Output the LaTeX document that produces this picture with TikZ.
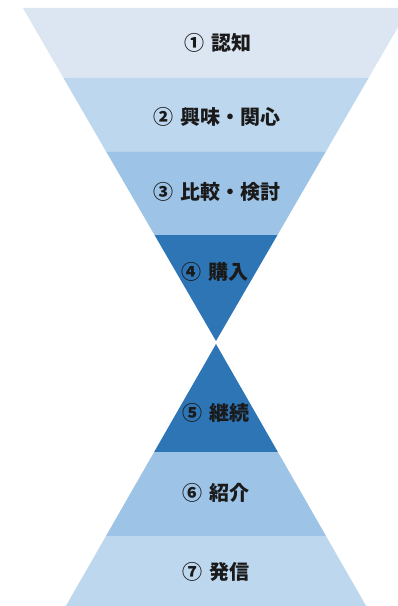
\documentclass[tikz,border=0pt]{standalone}
\usepackage{fontspec}
\newfontfamily\jpfont{Noto Sans CJK JP}
\usepackage{tikz}
\usetikzlibrary{positioning}
\definecolor{bandA}{HTML}{DCE6F2}
\definecolor{bandB}{HTML}{BDD7EE}
\definecolor{bandC}{HTML}{9DC3E6}
\definecolor{bandD}{HTML}{2E75B6}
\definecolor{labtext}{HTML}{1A1A1A}

\begin{document}
\begin{tikzpicture}[x=0.75pt, y=-0.75pt,
		label/.style={text=labtext, inner sep=0pt,
			font=\jpfont\bfseries\fontsize{15}{18}\selectfont}]
		\useasboundingbox (0,0) rectangle (398,606);
		\clip (0,0) rectangle (398,606);
		%% Upper funnel
		\foreach \ya/\yb/\col in {8/78/bandA, 78/152/bandB, 152/235/bandC, 235/341/bandD} {
			\pgfmathsetmacro\wa{0.58*(341-\ya)}
			\pgfmathsetmacro\wb{0.58*(341-\yb)}
			\fill [\col] (216-\wa,\ya) -- (216+\wa,\ya) -- (216+\wb,\yb) -- (216-\wb,\yb) -- cycle;
		}
		%% Lower funnel
		\foreach \ya/\yb/\col in {344/452/bandD, 452/536/bandC, 536/606/bandB} {
			\pgfmathsetmacro\wa{0.573*(\ya-344)}
			\pgfmathsetmacro\wb{0.573*(\yb-344)}
			\fill [\col] (216-\wa,\ya) -- (216+\wa,\ya) -- (216+\wb,\yb) -- (216-\wb,\yb) -- cycle;
		}
		%% Stages
		\node [label] at (218,43) (aware) {①\hspace{0.35em}認知};
		\node [label] at (217,117) (interest) {②\hspace{0.35em}興味・関心};
		\node [label] at (217,192) (compare) {③\hspace{0.35em}比較・検討};
		\node [label] at (215,272) (buy) {④\hspace{0.35em}購入};
		\node [label] at (216,413) (keep) {⑤\hspace{0.35em}継続};
		\node [label] at (216,493) (refer) {⑥\hspace{0.35em}紹介};
		\node [label] at (216,572) (share) {⑦\hspace{0.35em}発信};
	\end{tikzpicture}
\end{document}
